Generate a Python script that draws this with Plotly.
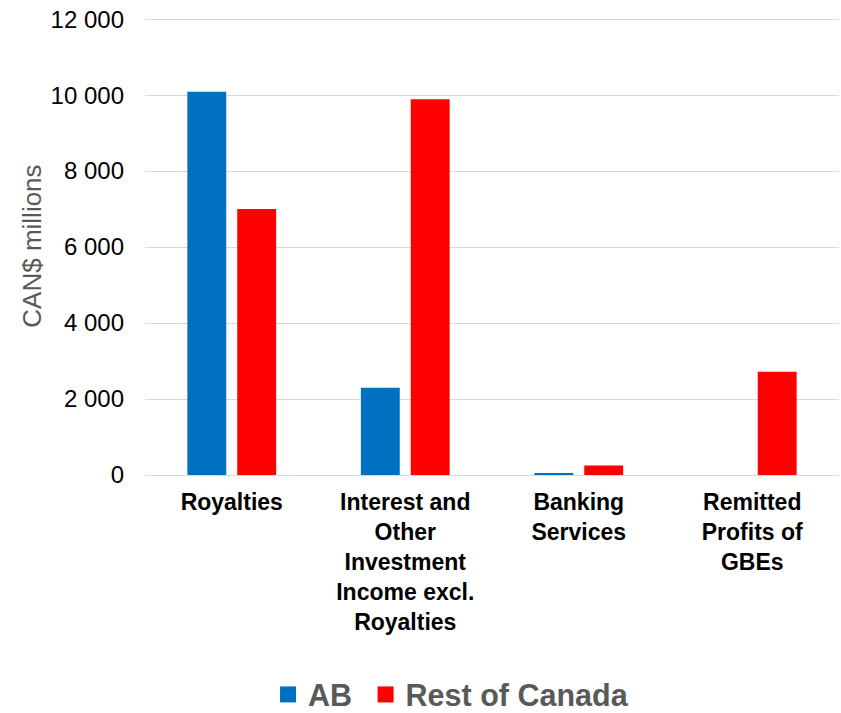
import plotly.graph_objects as go

categories = ["Royalties",
              "Interest and<br>Other<br>Investment<br>Income excl.<br>Royalties",
              "Banking<br>Services",
              "Remitted<br>Profits of<br>GBEs"]
ab_values = [10090, 2300, 30, 0]
roc_values = [7000, 9890, 250, 2720]
series_names = ["AB\u00a0", "Rest of Canada"]
series_colors = ["#0070C0", "#FF0000"]
y_ticks = [0, 2000, 4000, 6000, 8000, 10000, 12000]

FONT = "Liberation Sans, Arial, sans-serif"

fig = go.Figure()
for name, vals, col in zip(series_names, [ab_values, roc_values], series_colors):
    fig.add_trace(go.Bar(x=categories, y=vals, name=name.strip(), marker_color=col,
                         marker_line_width=0, showlegend=False))
    fig.add_trace(go.Scatter(x=[None], y=[None], mode="markers", name=name,
                             marker=dict(symbol="square", size=16, color=col)))

fig.update_layout(
    width=841, height=713,
    margin=dict(l=145, r=2, t=17.9, b=237.5, autoexpand=False),
    paper_bgcolor="white", plot_bgcolor="white",
    barmode="group", bargap=0.425, bargroupgap=0.22,
    font=dict(family=FONT),
    showlegend=True,
    legend=dict(orientation="h", x=0.441, xanchor="center", y=-0.4805, yanchor="middle",
                font=dict(size=30.5, color="#595959", weight="bold"),
                itemsizing="trace", traceorder="normal"),
    xaxis=dict(type="category", tickfont=dict(size=23, color="black", weight="bold"),
               showgrid=False, showline=False, ticks="", automargin=False,
               ticklabelstandoff=11),
    yaxis=dict(range=[0, 12030], tickvals=y_ticks, tickformat=",d",
               tickfont=dict(size=24, color="black"), ticklabeloverflow="allow",
               showgrid=True, gridcolor="#D9D9D9", gridwidth=1.3,
               zeroline=True, zerolinecolor="#D9D9D9", zerolinewidth=1.3,
               showline=False, ticks="", ticklabelstandoff=20, automargin=False),
    separators=". ",
    annotations=[dict(text="CAN$ millions", xref="paper", yref="paper",
                      x=-0.164, y=0.5, xanchor="center", yanchor="middle",
                      textangle=-90, showarrow=False,
                      font=dict(size=26, color="#595959", family=FONT))],
)

fig.write_html("out.html",
               config={"displayModeBar": False},
               post_script="document.body.style.margin='0';"
                           "document.documentElement.style.overflow='hidden';"
                           "document.body.style.overflow='hidden';")
